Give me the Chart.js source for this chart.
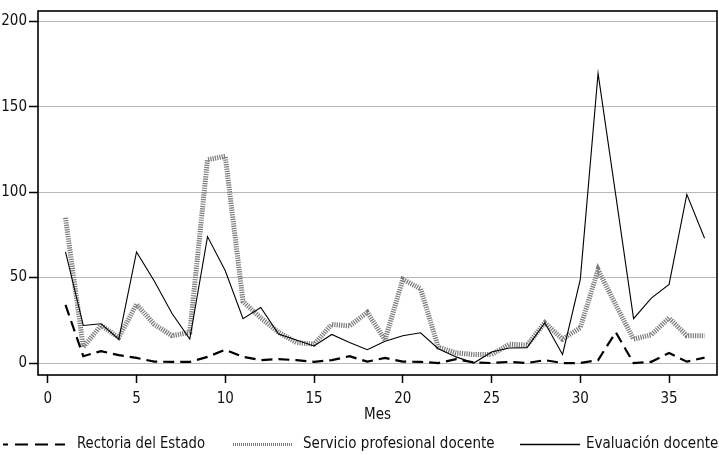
<!DOCTYPE html>
<html>
<head>
<meta charset="utf-8">
<script src="https://cdn.jsdelivr.net/npm/chart.js@4"></script>
<style>
  html, body { margin: 0; padding: 0; background: #fff; }
  #wrap { width: 719px; height: 454px; }
</style>
</head>
<body>
<div id="wrap"><canvas id="chart" width="719" height="454"></canvas></div>
<script>
// months 1..37
const months = [1,2,3,4,5,6,7,8,9,10,11,12,13,14,15,16,17,18,19,20,21,22,23,24,25,26,27,28,29,30,31,32,33,34,35,36,37];

const rectoria = [34,4,7,4.6,3,0.8,0.7,0.7,3.6,7.8,3.6,1.7,2.3,1.7,0.7,1.7,4,0.8,3,0.8,0.7,0,2.3,0.3,0,0.7,0,1.7,0,0,1.7,18,0,0.7,5.9,0.8,3.2];
const servicio = [85,9.3,22,15,34.4,22.6,16,18,119,121,36,26.4,18,12,11,22.6,21.7,29.6,13.5,49,43.5,9.3,5.9,5,5,11,10.5,23.6,14,20.7,54.6,34,14,16.5,26.4,16,16];
const evaluacion = [65,22,23,14,65,48,29,14,74,54,26,32.5,17,13.5,10,16.7,12,7.8,12.7,16,17.7,8.4,3.6,0,6.5,8.8,9,23.6,5,49,169.5,98,26,38,46,98.7,73];

const xTicks = [0,5,10,15,20,25,30,35];
const yTicks = [0,50,100,150,200];

const seriesNames = ['Rectoria del Estado', 'Servicio profesional docente', 'Evaluación docente'];

const FONT = '"DejaVu Sans Condensed", "DejaVu Sans", sans-serif';

function pts(vals) {
  return months.map((m, i) => ({ x: m, y: vals[i] }));
}

// box around plot + legend at the bottom
const framePlugin = {
  id: 'frame',
  afterDraw(chart) {
    const ctx = chart.ctx;
    const a = chart.chartArea;
    ctx.save();
    ctx.strokeStyle = '#000';
    ctx.lineWidth = 1.6;
    ctx.strokeRect(a.left, a.top, a.right - a.left, a.bottom - a.top);

    // legend
    const y = 444.5;
    const items = [
      { ds: 0, x0: 3, x1: 65, tx: 77, w: 128, lw: 2, dash: [13, 7], off: 8 },
      { ds: 1, x0: 233, x1: 293, tx: 303, w: 197, lw: 3, dash: [1, 1], off: 0 },
      { ds: 2, x0: 520, x1: 580, tx: 586, w: 133, lw: 1.3, dash: [], off: 0 }
    ];
    items.forEach(it => {
      const d = chart.data.datasets[it.ds];
      ctx.beginPath();
      ctx.setLineDash(it.dash);
      ctx.lineDashOffset = it.off;
      ctx.lineWidth = it.lw;
      ctx.strokeStyle = d.borderColor;
      ctx.moveTo(it.x0, y);
      ctx.lineTo(it.x1, y);
      ctx.stroke();
      ctx.setLineDash([]);
      ctx.fillStyle = '#111';
      ctx.font = '15px ' + FONT;
      ctx.textBaseline = 'middle';
      ctx.fillText(d.label, it.tx, y, it.w);
    });
    ctx.restore();
  }
};

const ctx = document.getElementById('chart').getContext('2d');
const chart = new Chart(ctx, {
  type: 'line',
  data: {
    datasets: [
      {
        label: seriesNames[0],
        data: pts(rectoria),
        borderColor: '#000',
        borderWidth: 2.2,
        borderDash: [11, 6],
        order: 0
      },
      {
        label: seriesNames[1],
        data: pts(servicio),
        borderColor: '#7a7a7a',
        borderWidth: 5,
        borderDash: [1.2, 1.1],
        order: 2
      },
      {
        label: seriesNames[2],
        data: pts(evaluacion),
        borderColor: '#000',
        borderWidth: 1.1,
        order: 1
      }
    ]
  },
  options: {
    responsive: false,
    animation: false,
    elements: {
      point: { radius: 0 },
      line: { tension: 0, fill: false, borderCapStyle: 'butt', borderJoinStyle: 'miter' }
    },
    layout: { padding: { top: 1, right: 2, bottom: 29, left: 0 } },
    plugins: {
      legend: { display: false },
      tooltip: { enabled: false }
    },
    scales: {
      x: {
        type: 'linear',
        min: -0.55,
        max: 37.7,
        afterBuildTicks: axis => { axis.ticks = xTicks.map(v => ({ value: v })); },
        afterFit: axis => { axis.height = 50; },
        grid: { drawOnChartArea: false, tickLength: 8, tickColor: '#000', tickWidth: 1.5 },
        border: { display: false },
        ticks: { color: '#111', font: { family: FONT, size: 15 }, padding: 7, autoSkip: false, maxRotation: 0 },
        title: { display: true, text: 'Mes', color: '#111', font: { family: FONT, size: 15 }, padding: { top: 0, bottom: 1 } }
      },
      y: {
        min: -7,
        max: 206,
        afterBuildTicks: axis => { axis.ticks = yTicks.map(v => ({ value: v })); },
        afterFit: axis => { axis.width = 38; },
        grid: { color: '#b8b8b8', lineWidth: 1, tickLength: 9, tickColor: '#000', tickWidth: 1.5 },
        border: { display: false },
        ticks: { color: '#111', font: { family: FONT, size: 15 }, padding: 2 }
      }
    }
  },
  plugins: [framePlugin]
});
</script>
</body>
</html>
